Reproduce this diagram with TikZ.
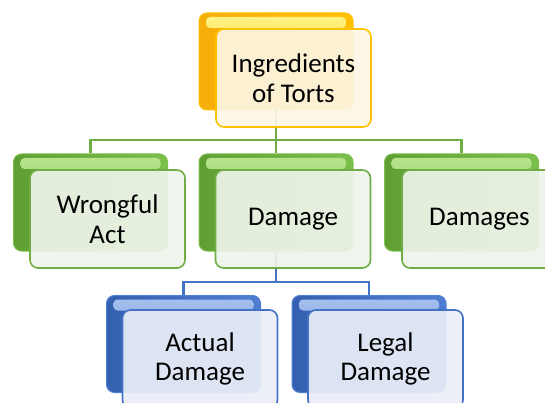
\documentclass[tikz,border=0pt]{standalone}
\usepackage{fontspec}
\setmainfont{Carlito}
\definecolor{yelback}{HTML}{FFC000}
\definecolor{yeldark}{HTML}{F5AE0A}
\definecolor{yelhigh}{HTML}{FFF589}
\definecolor{yelfront}{HTML}{FCF6E4}
\definecolor{grnback}{HTML}{7CC04C}
\definecolor{grndark}{HTML}{5E9E33}
\definecolor{grnhigh}{HTML}{B8E58F}
\definecolor{grnfront}{HTML}{EEF4EA}
\definecolor{grnline}{HTML}{70AD47}
\definecolor{bluback}{HTML}{4F7FD2}
\definecolor{bludark}{HTML}{3560B0}
\definecolor{bluhigh}{HTML}{A9C1EE}
\definecolor{blufront}{HTML}{EAEEF7}
\definecolor{bluline}{HTML}{4472C4}
\begin{document}
\begin{tikzpicture}[x=1pt,y=-1pt]
        \tikzstyle{backbox}=[rounded corners=8pt,minimum width=154pt,minimum height=97pt,inner sep=0pt,line width=1pt]
        \tikzstyle{frontbox}=[rounded corners=8pt,draw,line width=1.6pt,minimum width=155pt,minimum height=98pt,inner sep=0pt,align=center,fill opacity=0.92,text opacity=1,font=\fontsize{27}{29.5}\selectfont]
        \tikzstyle{yback}=[backbox,left color=yeldark,right color=yelback,draw=yelback,
                path picture={\shade[top color=yelhigh,bottom color=yelback,rounded corners=4pt] ([xshift=7pt,yshift=-4pt]path picture bounding box.north west) rectangle ([xshift=-7pt,yshift=-15pt]path picture bounding box.north east);}]
        \tikzstyle{gback}=[backbox,left color=grndark,right color=grnback,draw=grnback,
                path picture={\shade[top color=grnhigh,bottom color=grnback,rounded corners=4pt] ([xshift=7pt,yshift=-4pt]path picture bounding box.north west) rectangle ([xshift=-7pt,yshift=-15pt]path picture bounding box.north east);}]
        \tikzstyle{bback}=[backbox,left color=bludark,right color=bluback,draw=bluback,
                path picture={\shade[top color=bluhigh,bottom color=bluback,rounded corners=4pt] ([xshift=7pt,yshift=-4pt]path picture bounding box.north west) rectangle ([xshift=-7pt,yshift=-15pt]path picture bounding box.north east);}]
        \tikzstyle{yfront}=[frontbox,draw=yelback,fill=yelfront]
        \tikzstyle{gfront}=[frontbox,draw=grnline,fill=grnfront]
        \tikzstyle{bfront}=[frontbox,draw=bluline,fill=blufront]
        \tikzstyle{link}=[draw,line width=2.2pt]
        \useasboundingbox (0,0) rectangle (545,403);
        \coordinate (busg) at (0,140);
        \coordinate (busb) at (0,282);
        % back boxes
        \node [yback] (ingrback) at (276,61.5) {};
        \node [gback] (wrongback) at (90.5,202.5) {};
        \node [gback] (damback) at (276,202.5) {};
        \node [gback] (damsback) at (461.5,202.5) {};
        \node [bback] (actback) at (183.5,344) {};
        \node [bback] (legback) at (369,344) {};
        % connectors
        \path[link,grnline] (ingrback.south) -- (ingrback.south |- busg) -| (wrongback.north);
        \path[link,grnline] (ingrback.south |- busg) -| (damback.north);
        \path[link,grnline] (ingrback.south |- busg) -| (damsback.north);
        \path[link,bluline] (damback.south) -- (damback.south |- busb) -| (actback.north);
        \path[link,bluline] (damback.south |- busb) -| (legback.north);
        % front boxes
        \node [yfront] (ingr) at (293.5,78) {Ingredients\\of Torts};
        \node [gfront] (wrong) at (107.5,219) {Wrongful\\Act};
        \node [gfront] (dam) at (293,219) {Damage};
        \node [gfront] (dams) at (479.5,219) {Damages};
        \node [bfront] (act) at (200,359) {Actual\\Damage};
        \node [bfront] (leg) at (385.5,359) {Legal\\Damage};
\end{tikzpicture}
\end{document}
